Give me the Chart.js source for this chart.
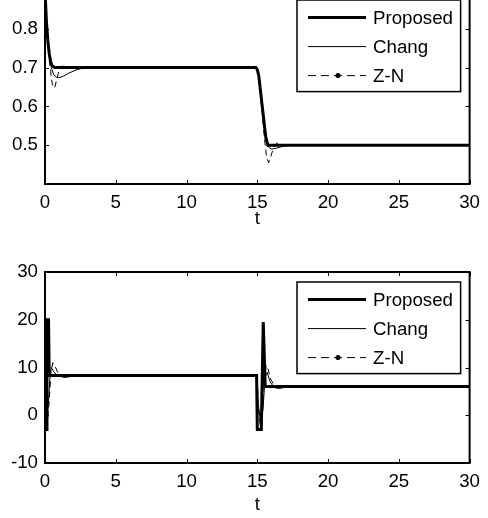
<!DOCTYPE html>
<html>
<head>
<meta charset="utf-8">
<script src="https://cdn.jsdelivr.net/npm/chart.js@4.4.0/dist/chart.umd.min.js"></script>
<style>
  body { margin: 0; background: #fff; width: 488px; height: 518px; overflow: hidden; position: relative; }
  #topBox { position: absolute; left: 0; top: -10px; width: 488px; height: 240px; }
  #bottomBox { position: absolute; left: 0; top: 240px; width: 488px; height: 278px; }
</style>
</head>
<body>
<div id="topBox"><canvas id="topChart"></canvas></div>
<div id="bottomBox"><canvas id="bottomChart"></canvas></div>
<script>
//series names
var seriesNames = ['Proposed', 'Chang', 'Z-N'];

//tick labels
var xTicks = [0, 5, 10, 15, 20, 25, 30];
var yTicksTop = [0.5, 0.6, 0.7, 0.8];
var yTicksBottom = [-10, 0, 10, 20, 30];

//upper plot: output response
var tProposedA = [0, 0.1, 0.2, 0.3, 0.4, 0.5, 0.7, 14.9, 15.0, 15.1, 15.35, 15.6, 15.75, 30];
var proposedA = [0.9, 0.82, 0.77, 0.735, 0.715, 0.705, 0.7, 0.7, 0.695, 0.68, 0.6, 0.52, 0.5, 0.5];

var tChangA = [0, 0.1, 0.2, 0.3, 0.45, 0.6, 0.8, 1.0, 1.3, 1.7, 2.2, 2.8, 14.9, 15.0, 15.1, 15.35, 15.6, 15.8, 16.0, 16.3, 16.8, 17.3, 30];
var changA = [0.9, 0.82, 0.77, 0.73, 0.7, 0.683, 0.675, 0.674, 0.678, 0.686, 0.694, 0.7, 0.7, 0.695, 0.68, 0.6, 0.52, 0.495, 0.49, 0.492, 0.497, 0.5, 0.5];

var tZnA = [0, 0.1, 0.2, 0.3, 0.4, 0.5, 0.6, 0.7, 0.85, 1.0, 1.2, 1.5, 1.9, 2.4, 14.9, 15.0, 15.1, 15.3, 15.5, 15.65, 15.8, 15.95, 16.15, 16.4, 16.7, 17.1, 30];
var znA = [0.9, 0.82, 0.76, 0.72, 0.69, 0.66, 0.647, 0.65, 0.672, 0.695, 0.704, 0.702, 0.699, 0.7, 0.7, 0.695, 0.675, 0.6, 0.52, 0.47, 0.455, 0.47, 0.495, 0.506, 0.502, 0.5, 0.5];

//lower plot: control signal
var tProposedB = [0, 0.12, 0.14, 0.25, 0.3, 14.95, 15.0, 15.28, 15.42, 15.56, 30];
var proposedB = [-3, -3, 20, 20, 8.3, 8.3, -3, -3, 19.5, 6, 6];

var tChangB = [0, 0.08, 0.15, 0.25, 0.35, 0.45, 0.6, 0.8, 1.1, 1.4, 1.8, 2.4, 15.0, 15.05, 15.2, 15.4, 15.55, 15.7, 15.9, 16.2, 16.5, 16.9, 17.5, 30];
var changB = [12.8, 4, 0, 3, 8, 10, 9.2, 8.5, 8.1, 7.9, 8.1, 8.3, 8.3, 3, -1, 1, 8, 9, 7, 5.8, 5.6, 5.8, 6, 6];

var tZnB = [0, 0.08, 0.18, 0.3, 0.42, 0.55, 0.7, 0.9, 1.2, 1.6, 2.2, 15.0, 15.05, 15.2, 15.35, 15.5, 15.62, 15.78, 15.95, 16.2, 16.5, 16.9, 17.5, 30];
var znB = [11, 3, -1, 3, 9, 11, 10.3, 9, 8.2, 8.1, 8.3, 8.3, 2, -2, 1, 7, 10.5, 9.5, 7.5, 6.2, 5.8, 5.9, 6, 6];

var fontFamily = '"Liberation Sans", Arial, sans-serif';
var fontSize = 18.7;

toPoints = (ts, vs) => {
  var pts = [];
  for (var i = 0; i < ts.length; i++) {
    pts.push({ x: ts[i], y: vs[i] });
  }
  return pts;
}

makeDatasets = (p, c, z) => {
  return [{
    label: seriesNames[0],
    data: p,
    borderColor: '#000',
    borderWidth: 3,
    pointRadius: 0,
    tension: 0
  }, {
    label: seriesNames[1],
    data: c,
    borderColor: '#000',
    borderWidth: 1,
    pointRadius: 0,
    tension: 0
  }, {
    label: seriesNames[2],
    data: z,
    borderColor: '#000',
    borderWidth: 1,
    borderDash: [6, 4],
    pointRadius: 0,
    tension: 0
  }];
}

//box round the axes, inward ticks, and a boxed legend in the upper right
var matlabAxes = {
  id: 'matlabAxes',
  afterDatasetsDraw: function (chart) {
    var ctx = chart.ctx;
    var a = chart.chartArea;
    var xs = chart.scales.x;
    var ys = chart.scales.y;
    ctx.save();
    ctx.strokeStyle = '#000';
    ctx.lineWidth = 2;
    ctx.strokeRect(a.left, a.top, a.right - a.left, a.bottom - a.top);

    ctx.lineWidth = 1;
    ctx.beginPath();
    xs.ticks.forEach(function (t) {
      var px = Math.round(xs.getPixelForValue(t.value)) + 0.5;
      ctx.moveTo(px, a.bottom); ctx.lineTo(px, a.bottom - 4);
      ctx.moveTo(px, a.top); ctx.lineTo(px, a.top + 4);
    });
    ys.ticks.forEach(function (t) {
      var py = Math.round(ys.getPixelForValue(t.value)) + 0.5;
      ctx.moveTo(a.left, py); ctx.lineTo(a.left + 4, py);
      ctx.moveTo(a.right, py); ctx.lineTo(a.right - 4, py);
    });
    ctx.stroke();

    //legend
    var lx0 = 297, lx1 = a.right - 9;
    var ly0 = a.top + 10, ly1 = a.top + 101.6;
    ctx.fillStyle = '#fff';
    ctx.fillRect(lx0, ly0, lx1 - lx0, ly1 - ly0);
    ctx.lineWidth = 1.5;
    ctx.strokeRect(lx0, ly0, lx1 - lx0, ly1 - ly0);
    ctx.font = fontSize + 'px ' + fontFamily;
    ctx.textBaseline = 'middle';
    ctx.fillStyle = '#000';
    chart.data.datasets.forEach(function (ds, i) {
      var ry = a.top + 27.6 + i * 29;
      ctx.lineWidth = ds.borderWidth;
      ctx.setLineDash(ds.borderDash ? [8, 5] : []);
      ctx.beginPath();
      ctx.moveTo(308, ry);
      ctx.lineTo(366, ry);
      ctx.stroke();
      ctx.setLineDash([]);
      if (ds.borderDash) {
        ctx.beginPath();
        ctx.arc(338, ry, 2.5, 0, Math.PI * 2);
        ctx.fill();
      }
      ctx.fillText(ds.label, 373, ry + 1);
    });
    ctx.restore();
  }
};

makeOptions = (yMin, yMax, yTicks, padTop, xHeight, titlePad) => {
  return {
    responsive: true,
    maintainAspectRatio: false,
    animation: false,
    events: [],
    layout: { padding: { top: padTop, right: 16, left: 0, bottom: 0 } },
    plugins: { legend: { display: false }, tooltip: { enabled: false } },
    scales: {
      x: {
        type: 'linear',
        min: 0,
        max: 30,
        afterBuildTicks: function (s) { s.ticks = xTicks.map(v => ({ value: v })); },
        afterFit: function (s) { s.height = xHeight; },
        grid: { display: false, drawTicks: false },
        border: { display: false },
        ticks: { color: '#000', padding: 8, maxRotation: 0, autoSkip: false, font: { family: fontFamily, size: fontSize } },
        title: { display: true, text: 't', color: '#000', padding: { top: 0, bottom: titlePad }, font: { family: fontFamily, size: fontSize } }
      },
      y: {
        type: 'linear',
        min: yMin,
        max: yMax,
        afterBuildTicks: function (s) { s.ticks = yTicks.map(v => ({ value: v })); },
        afterFit: function (s) {
          s.width = 45;
          s.paddingTop = 0;
          s.paddingBottom = 0;
        },
        grid: { display: false, drawTicks: false },
        border: { display: false },
        ticks: { color: '#000', padding: 7, font: { family: fontFamily, size: fontSize } }
      }
    }
  };
}

var topChart = new Chart(document.getElementById('topChart').getContext('2d'), {
  type: 'line',
  data: {
    datasets: makeDatasets(toPoints(tProposedA, proposedA), toPoints(tChangA, changA), toPoints(tZnA, znA))
  },
  options: makeOptions(0.4, 0.9, yTicksTop, 0, 46, 0),
  plugins: [matlabAxes]
});

var bottomChart = new Chart(document.getElementById('bottomChart').getContext('2d'), {
  type: 'line',
  data: {
    datasets: makeDatasets(toPoints(tProposedB, proposedB), toPoints(tChangB, changB), toPoints(tZnB, znB))
  },
  options: makeOptions(-10, 30, yTicksBottom, 32, 55, 2),
  plugins: [matlabAxes]
});
</script>
</body>
</html>
